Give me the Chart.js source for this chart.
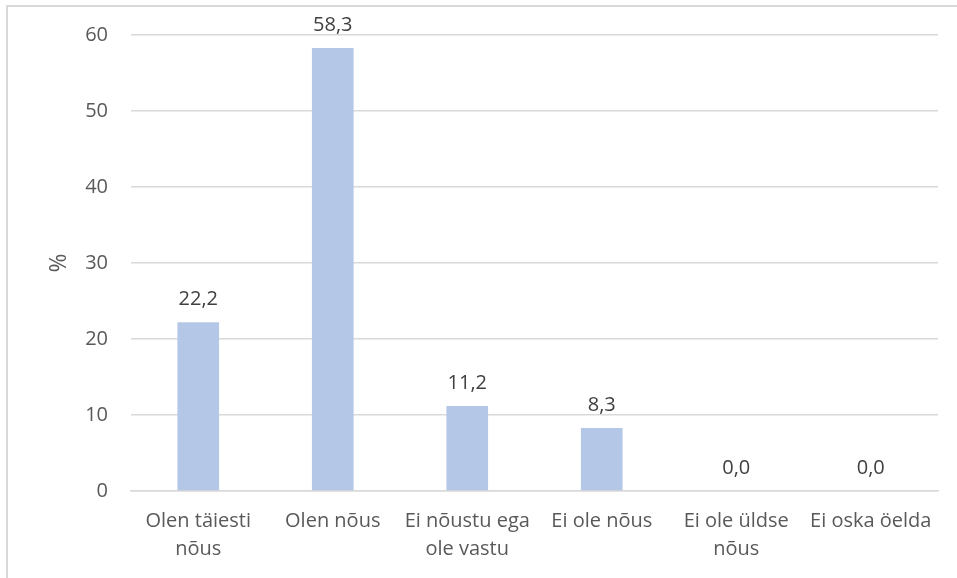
<!DOCTYPE html>
<html>
<head>
<meta charset="utf-8">
<script src="https://cdn.jsdelivr.net/npm/chart.js@4"></script>
<style>
  html, body { margin: 0; padding: 0; background: #fff; }
  #wrap { position: relative; width: 957px; height: 578px; }
  #frame { position: absolute; left: 6px; top: 5px; width: 960px; height: 600px;
           border-left: 2px solid #d9d9d9; border-top: 2px solid #d9d9d9; }
  canvas { position: absolute; left: 0; top: 0; }
</style>
</head>
<body>
<div id="wrap">
  <div id="frame"></div>
  <canvas id="answers" width="957" height="578"></canvas>
</div>
<script>
var categories = [
  ['Olen täiesti', 'nõus'],
  'Olen nõus',
  ['Ei nõustu ega', 'ole vastu'],
  'Ei ole nõus',
  ['Ei ole üldse', 'nõus'],
  'Ei oska öelda'
];
var percents = [22.2, 58.3, 11.2, 8.3, 0.0, 0.0];
var yTicks = [0, 10, 20, 30, 40, 50, 60];

var textColor = '#595959';
var fontFamily = '"Open Sans", "Liberation Sans", sans-serif';

// values above the bars, comma as decimal sign
var valueLabels = {
  id: 'valueLabels',
  afterDatasetsDraw: function(chart) {
    var ctx = chart.ctx;
    var meta = chart.getDatasetMeta(0);
    ctx.save();
    ctx.font = '20px ' + fontFamily;
    ctx.fillStyle = '#404040';
    ctx.textAlign = 'center';
    ctx.textBaseline = 'bottom';
    meta.data.forEach(function(bar, i) {
      var txt = percents[i].toFixed(1).replace('.', ',');
      ctx.fillText(txt, bar.x, bar.y - 13);
    });
    ctx.restore();
  }
};

var answers = document.getElementById('answers').getContext('2d');
var myChart = new Chart(answers, {
  type: 'bar',
  data: {
    labels: categories,
    datasets: [{
      label: '%',
      data: percents,
      backgroundColor: '#b4c7e7',
      barPercentage: 0.62,
      categoryPercentage: 0.5
    }]
  },
  options: {
    responsive: false,
    animation: false,
    layout: { padding: { left: 0, right: 19, top: 35, bottom: 0 } },
    plugins: {
      legend: { display: false },
      tooltip: { enabled: false }
    },
    scales: {
      x: {
        grid: { display: false, drawTicks: false },
        border: { color: '#d9d9d9', width: 1.5 },
        ticks: {
          color: textColor,
          font: { family: fontFamily, size: 20, lineHeight: 1.4 },
          padding: 16,
          maxRotation: 0,
          autoSkip: false
        },
        afterFit: function(scale) { scale.height = 87; }
      },
      y: {
        min: 0,
        max: 60,
        afterBuildTicks: function(scale) {
          scale.ticks = yTicks.map(function(v) { return { value: v }; });
        },
        grid: { color: '#d9d9d9', lineWidth: 1.5, drawTicks: false },
        border: { display: false },
        ticks: {
          color: textColor,
          font: { family: fontFamily, size: 20 },
          padding: 23
        },
        title: {
          display: true,
          text: '%',
          color: textColor,
          font: { family: fontFamily, size: 23 },
          padding: { top: 46, bottom: 0 }
        },
        afterFit: function(scale) { scale.width = 131; }
      }
    }
  },
  plugins: [valueLabels]
});
</script>
</body>
</html>
